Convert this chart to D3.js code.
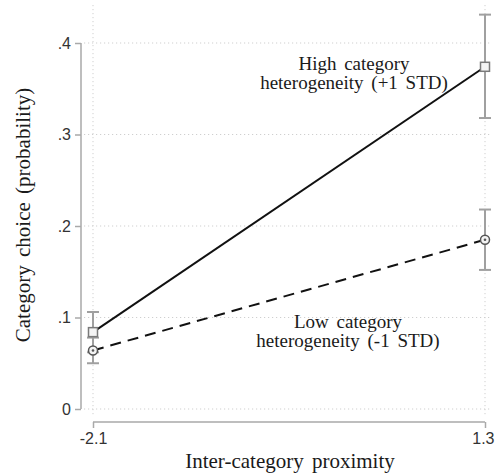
<!DOCTYPE html>
<html>
<head>
<meta charset="utf-8">
<script src="https://cdn.jsdelivr.net/npm/d3@7"></script>
<style>
  html, body { margin: 0; padding: 0; background: #fff; }
  svg { display: block; }
</style>
</head>
<body>
<svg id="chart" width="495" height="475"></svg>
<script>
// ---- data ----
const xValues = [-2.1, 1.3];
const xTickLabels = ["-2.1", "1.3"];
const yTicks = [0, 0.1, 0.2, 0.3, 0.4];
const yTickLabels = ["0", ".1", ".2", ".3", ".4"];

const highMean = [0.084, 0.374];
const highLower = [0.062, 0.318];
const highUpper = [0.106, 0.431];

const lowMean = [0.064, 0.185];
const lowLower = [0.050, 0.152];
const lowUpper = [0.078, 0.218];

const highLabel = ["High category", "heterogeneity (+1 STD)"];
const lowLabel = ["Low category", "heterogeneity (-1 STD)"];
const yTitle = "Category choice (probability)";
const xTitle = "Inter-category proximity";

// ---- layout ----
const svg = d3.select("#chart");
const x = d3.scaleLinear().domain([-2.1, 1.3]).range([93, 485]);
const y = d3.scaleLinear().domain([0, 0.4]).range([409, 43]);
const axisColor = "#a9a9a9";
const gridColor = "#cfcfcf";
const serif = "'Liberation Serif', 'Times New Roman', serif";
const sans = "'Liberation Sans', Arial, sans-serif";

// gridlines
svg.append("g").selectAll("line").data(yTicks).join("line")
  .attr("x1", 84).attr("x2", 492)
  .attr("y1", d => y(d)).attr("y2", d => y(d))
  .attr("stroke", gridColor).attr("stroke-width", 1)
  .attr("stroke-dasharray", "1.2,2.8");
svg.append("g").selectAll("line").data(xValues).join("line")
  .attr("x1", d => x(d)).attr("x2", d => x(d))
  .attr("y1", 5).attr("y2", 415)
  .attr("stroke", gridColor).attr("stroke-width", 1)
  .attr("stroke-dasharray", "1.2,2.8");

// y axis
const yAxis = d3.axisLeft(y).tickValues(yTicks)
  .tickFormat((d, i) => yTickLabels[i]).tickSize(6).tickPadding(4);
const gy = svg.append("g").attr("transform", "translate(81,0)").call(yAxis);
gy.select(".domain").attr("stroke", axisColor).attr("stroke-width", 1.5)
  .attr("d", `M0,${y(0)}V${y(0.4)}`);
gy.selectAll(".tick line").attr("stroke", axisColor).attr("stroke-width", 1.5);
gy.selectAll(".tick text").attr("font-family", sans).attr("font-size", 16).attr("fill", "#333");

// x axis
const xAxis = d3.axisBottom(x).tickValues(xValues)
  .tickFormat((d, i) => xTickLabels[i]).tickSize(6).tickPadding(5);
const gx = svg.append("g").attr("transform", "translate(0,422)").call(xAxis);
gx.select(".domain").attr("stroke", axisColor).attr("stroke-width", 1.5)
  .attr("d", `M${x(-2.1)},0H${x(1.3)}`);
gx.selectAll(".tick line").attr("stroke", axisColor).attr("stroke-width", 1.5);
gx.selectAll(".tick text").attr("font-family", sans).attr("font-size", 16).attr("fill", "#333");
gx.selectAll(".tick text").filter((d, i) => i === xValues.length - 1)
  .attr("text-anchor", "end").attr("dx", 9);

// error bars
function errorBars(lower, upper) {
  const g = svg.append("g").attr("stroke", "#a0a0a0").attr("stroke-width", 2);
  xValues.forEach((xv, i) => {
    g.append("line").attr("x1", x(xv)).attr("x2", x(xv))
      .attr("y1", y(lower[i])).attr("y2", y(upper[i]));
    [lower[i], upper[i]].forEach(v => {
      g.append("line").attr("x1", x(xv) - 6).attr("x2", x(xv) + 6)
        .attr("y1", y(v)).attr("y2", y(v));
    });
  });
}
errorBars(lowLower, lowUpper);
errorBars(highLower, highUpper);

// lines
const line = d3.line().x((d, i) => x(xValues[i])).y(d => y(d));
svg.append("path").datum(highMean).attr("d", line)
  .attr("fill", "none").attr("stroke", "#111").attr("stroke-width", 2);
svg.append("path").datum(lowMean).attr("d", line)
  .attr("fill", "none").attr("stroke", "#111").attr("stroke-width", 2)
  .attr("stroke-dasharray", "11,7");

// markers
svg.append("g").selectAll("rect").data(highMean).join("rect")
  .attr("x", (d, i) => x(xValues[i]) - 4.5).attr("y", d => y(d) - 4.5)
  .attr("width", 9).attr("height", 9)
  .attr("fill", "#f4f4f4").attr("stroke", "#7a7a7a").attr("stroke-width", 1.5);
const lm = svg.append("g");
lm.selectAll("circle.o").data(lowMean).join("circle").attr("class", "o")
  .attr("cx", (d, i) => x(xValues[i])).attr("cy", d => y(d)).attr("r", 4.5)
  .attr("fill", "#f4f4f4").attr("stroke", "#555").attr("stroke-width", 1.5);
lm.selectAll("circle.i").data(lowMean).join("circle").attr("class", "i")
  .attr("cx", (d, i) => x(xValues[i])).attr("cy", d => y(d)).attr("r", 1.3)
  .attr("fill", "#555");

// annotations
function label(lines, cx, y0) {
  svg.append("text").attr("font-family", serif).attr("font-size", 19)
    .attr("word-spacing", 3)
    .attr("fill", "#1a1a1a").attr("text-anchor", "middle")
    .selectAll("tspan").data(lines).join("tspan")
    .attr("x", cx).attr("y", (d, i) => y0 + i * 19).text(d => d);
}
label(highLabel, 354, 70);
label(lowLabel, 348, 328);

// axis titles
svg.append("text").attr("font-family", serif).attr("font-size", 21).attr("fill", "#1a1a1a")
  .attr("word-spacing", 3)
  .attr("text-anchor", "middle").attr("transform", "translate(30,215) rotate(-90)")
  .text(yTitle);
svg.append("text").attr("font-family", serif).attr("font-size", 21).attr("fill", "#1a1a1a")
  .attr("word-spacing", 3)
  .attr("text-anchor", "middle").attr("x", 290).attr("y", 468)
  .text(xTitle);
</script>
</body>
</html>
